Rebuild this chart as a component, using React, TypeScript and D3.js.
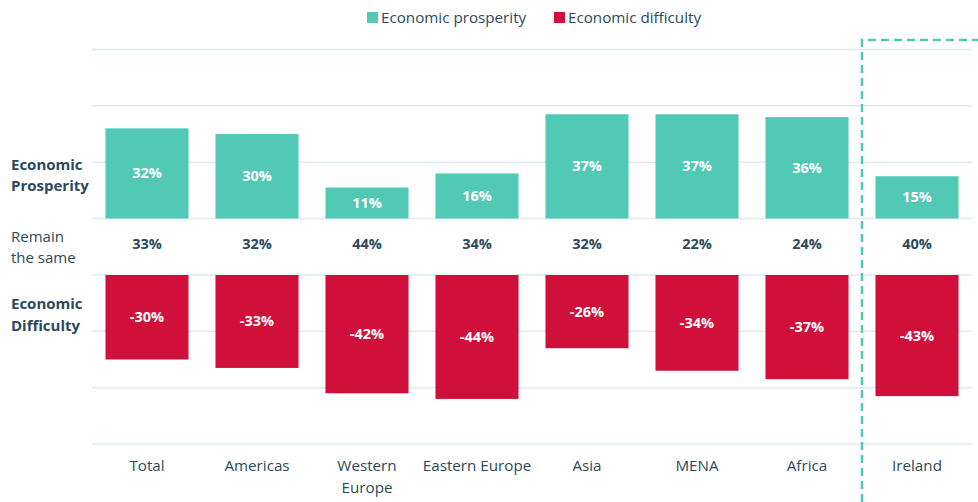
import React from "react";
import * as d3 from "d3";

const categories = ["Total", "Americas", "Western Europe", "Eastern Europe", "Asia", "MENA", "Africa", "Ireland"];
const prosperity = [32, 30, 11, 16, 37, 37, 36, 15];
const remainSame = [33, 32, 44, 34, 32, 22, 24, 40];
const difficulty = [-30, -33, -42, -44, -26, -34, -37, -43];
const gridTop = [0, 20, 40, 60];
const gridBottom = [0, -20, -40, -60];

const W = 978, H = 502;
const TEAL = "#52C9B4";
const RED = "#D0103A";
const TEXT = "#2B4A5A";
const GRID = "#DDEBF1";
const FONT = "'Open Sans', sans-serif";

export default function App() {
  const x = d3.scaleBand<string>().domain(categories).range([92, 972]).paddingInner(0.245).paddingOuter(0.1225);
  const yTop = d3.scaleLinear().domain([0, 60]).range([218.5, 49.5]);
  const yBot = d3.scaleLinear().domain([0, -60]).range([275, 444]);
  const bw = x.bandwidth();
  const irelandX = (x("Africa")! + bw + x("Ireland")!) / 2;

  return (
    <svg width={W} height={H} style={{ position: "absolute", left: 0, top: 0, fontFamily: FONT }}>
      <rect width={W} height={H} fill="#fff" />
      {gridTop.map((g) => (
        <line key={"t" + g} x1={92} x2={972} y1={yTop(g)} y2={yTop(g)} stroke={GRID} strokeWidth={1.5} />
      ))}
      {gridBottom.map((g) => (
        <line key={"b" + g} x1={92} x2={972} y1={yBot(g)} y2={yBot(g)} stroke={GRID} strokeWidth={1.5} />
      ))}
      {categories.map((c, i) => {
        const x0 = x(c)!;
        const cx = x0 + bw / 2;
        const pTop = yTop(prosperity[i]);
        const dBot = yBot(difficulty[i]);
        const lines = c === "Western Europe" ? ["Western", "Europe"] : [c];
        return (
          <g key={c}>
            <rect x={x0} y={pTop} width={bw} height={yTop(0) - pTop} fill={TEAL} />
            <text x={cx} y={(pTop + yTop(0)) / 2 + 5} textAnchor="middle" fill="#fff" fontWeight="bold" fontSize={14.5}>
              {prosperity[i]}%
            </text>
            <text x={cx} y={249} textAnchor="middle" fill={TEXT} fontWeight="bold" fontSize={14.5}>
              {remainSame[i]}%
            </text>
            <rect x={x0} y={yBot(0)} width={bw} height={dBot - yBot(0)} fill={RED} />
            <text x={cx} y={(yBot(0) + dBot) / 2 + 5} textAnchor="middle" fill="#fff" fontWeight="bold" fontSize={14.5}>
              {difficulty[i]}%
            </text>
            {lines.map((l, j) => (
              <text key={l} x={cx} y={471 + j * 22} textAnchor="middle" fill={TEXT} fontSize={15.2}>
                {l}
              </text>
            ))}
          </g>
        );
      })}
      <path
        d={`M${irelandX},502 L${irelandX},40 L${W},40`}
        fill="none"
        stroke={TEAL}
        strokeWidth={2.5}
        strokeDasharray="8 5"
      />
      <g fontSize={15} fill={TEXT}>
        <text x={11} y={170} fontWeight="bold">Economic</text>
        <text x={11} y={191} fontWeight="bold">Prosperity</text>
        <text x={11} y={242}>Remain</text>
        <text x={11} y={263}>the same</text>
        <text x={11} y={309} fontWeight="bold">Economic</text>
        <text x={11} y={331} fontWeight="bold">Difficulty</text>
      </g>
      <rect x={367} y={12} width={11} height={11} fill={TEAL} />
      <text x={381} y={23} fontSize={15.2} fill={TEXT}>Economic prosperity</text>
      <rect x={554} y={12} width={11} height={11} fill={RED} />
      <text x={568} y={23} fontSize={15.2} fill={TEXT}>Economic difficulty</text>
    </svg>
  );
}
